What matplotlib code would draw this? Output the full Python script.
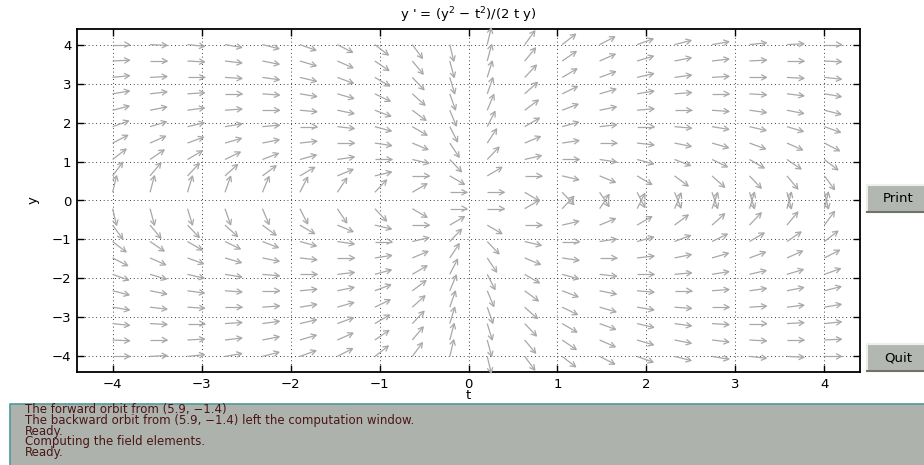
import numpy as np
import matplotlib.pyplot as plt
from matplotlib.collections import LineCollection
from matplotlib.patches import Rectangle

plt.rcParams['font.family'] = ['DejaVu Sans']
plt.rcParams['mathtext.fontset'] = 'dejavusans'

# direction field grid for y' = (y^2 - t^2)/(2 t y)
t_grid = np.linspace(-4, 4, 20)
y_grid = np.linspace(-4, 4, 20)
x_ticks = [-4, -3, -2, -1, 0, 1, 2, 3, 4]
y_ticks = [-4, -3, -2, -1, 0, 1, 2, 3, 4]
messages = [
    "The forward orbit from (5.9, \u22121.4)",
    "The backward orbit from (5.9, \u22121.4) left the computation window.",
    "Ready.",
    "Computing the field elements.",
    "Ready.",
]

W, H = 924, 465
fig = plt.figure(figsize=(W / 100, H / 100), dpi=100)
ax = fig.add_axes([77 / W, (H - 372) / H, 783 / W, 343 / H])
ax.set_xlim(-4.4, 4.4)
ax.set_ylim(-4.4, 4.4)

T, Y = np.meshgrid(t_grid, y_grid)
F = (Y**2 - T**2) / (2 * T * Y)

# arrows of equal length on screen
kx = 783 / 8.8
ky = 343 / 8.8
sx = np.ones_like(F) * kx
sy = F * ky
n = np.hypot(sx, sy)
d = np.column_stack([(sx / n).ravel(), (sy / n).ravel()])

L, hl = 17.0, 6.0
ang = np.deg2rad(28)
tail = ax.transData.transform(np.column_stack([T.ravel(), Y.ravel()]))
head = tail + L * d
c, s = np.cos(ang), np.sin(ang)
w1 = np.column_stack([d[:, 0] * c - d[:, 1] * s, d[:, 0] * s + d[:, 1] * c])
w2 = np.column_stack([d[:, 0] * c + d[:, 1] * s, -d[:, 0] * s + d[:, 1] * c])
wing1 = head - hl * w1
wing2 = head - hl * w2

inv = ax.transData.inverted()
tail_d, head_d = inv.transform(tail), inv.transform(head)
wing1_d, wing2_d = inv.transform(wing1), inv.transform(wing2)
segs = []
for i in range(len(tail_d)):
    segs.append([tail_d[i], head_d[i]])
    segs.append([wing1_d[i], head_d[i], wing2_d[i]])
lc = LineCollection(segs, colors='#a8a8a8', linewidths=0.9, zorder=3)
lc.set_clip_on(False)
ax.add_collection(lc)

ax.set_xticks(x_ticks)
ax.set_yticks(y_ticks)
ax.grid(True, color='k', linestyle=(0, (1, 3.5)), linewidth=0.6)
ax.set_axisbelow(True)
ax.tick_params(direction='in', top=True, right=True, length=5, width=1,
               labelsize=9.5, pad=4)
for sp in ax.spines.values():
    sp.set_linewidth(1.3)
ax.set_title("y ' = (y$^2$ \u2212 t$^2$)/(2 t y)", fontsize=9.5, pad=7)
ax.set_xlabel("t", fontsize=9.5, labelpad=-1)
ax.set_ylabel("y", fontsize=9.5, labelpad=9)


def button(x0, y0, x1, y1, label):
    fx, fy = x0 / W, (H - y1) / H
    fw, fh = (x1 - x0) / W, (y1 - y0) / H
    fig.patches.append(Rectangle((fx, fy), fw, fh, transform=fig.transFigure,
                                 facecolor='#b3b7b1', edgecolor='none'))
    fig.lines.append(plt.Line2D([fx, fx, fx + fw], [fy, fy + fh, fy + fh],
                                transform=fig.transFigure, color='#eef0ec', lw=1.5))
    fig.lines.append(plt.Line2D([fx, fx + fw], [fy, fy], transform=fig.transFigure,
                                color='#6e716c', lw=1.5))
    fig.text((x0 + x1) / 2 / W + 2 / W, (H - (y0 + y1) / 2) / H, label, ha='center',
             va='center', fontsize=9.5, color='k')


button(867, 185, 926, 212, "Print")
button(867, 344, 926, 371, "Quit")

# message area
fig.patches.append(Rectangle((10 / W, 0), 1, (H - 404) / H, transform=fig.transFigure,
                             facecolor='#aeb2ac', edgecolor='none'))
fig.lines.append(plt.Line2D([10 / W, 10 / W, 1], [0, (H - 404) / H, (H - 404) / H],
                            transform=fig.transFigure, color='#4e9a9a', lw=1.2))
fig.text(25 / W, (H - 403) / H, "\n".join(messages), fontsize=8.5,
         color='#4a1616', va='top', ha='left', linespacing=0.78)

fig.savefig("out.png", dpi=100)
